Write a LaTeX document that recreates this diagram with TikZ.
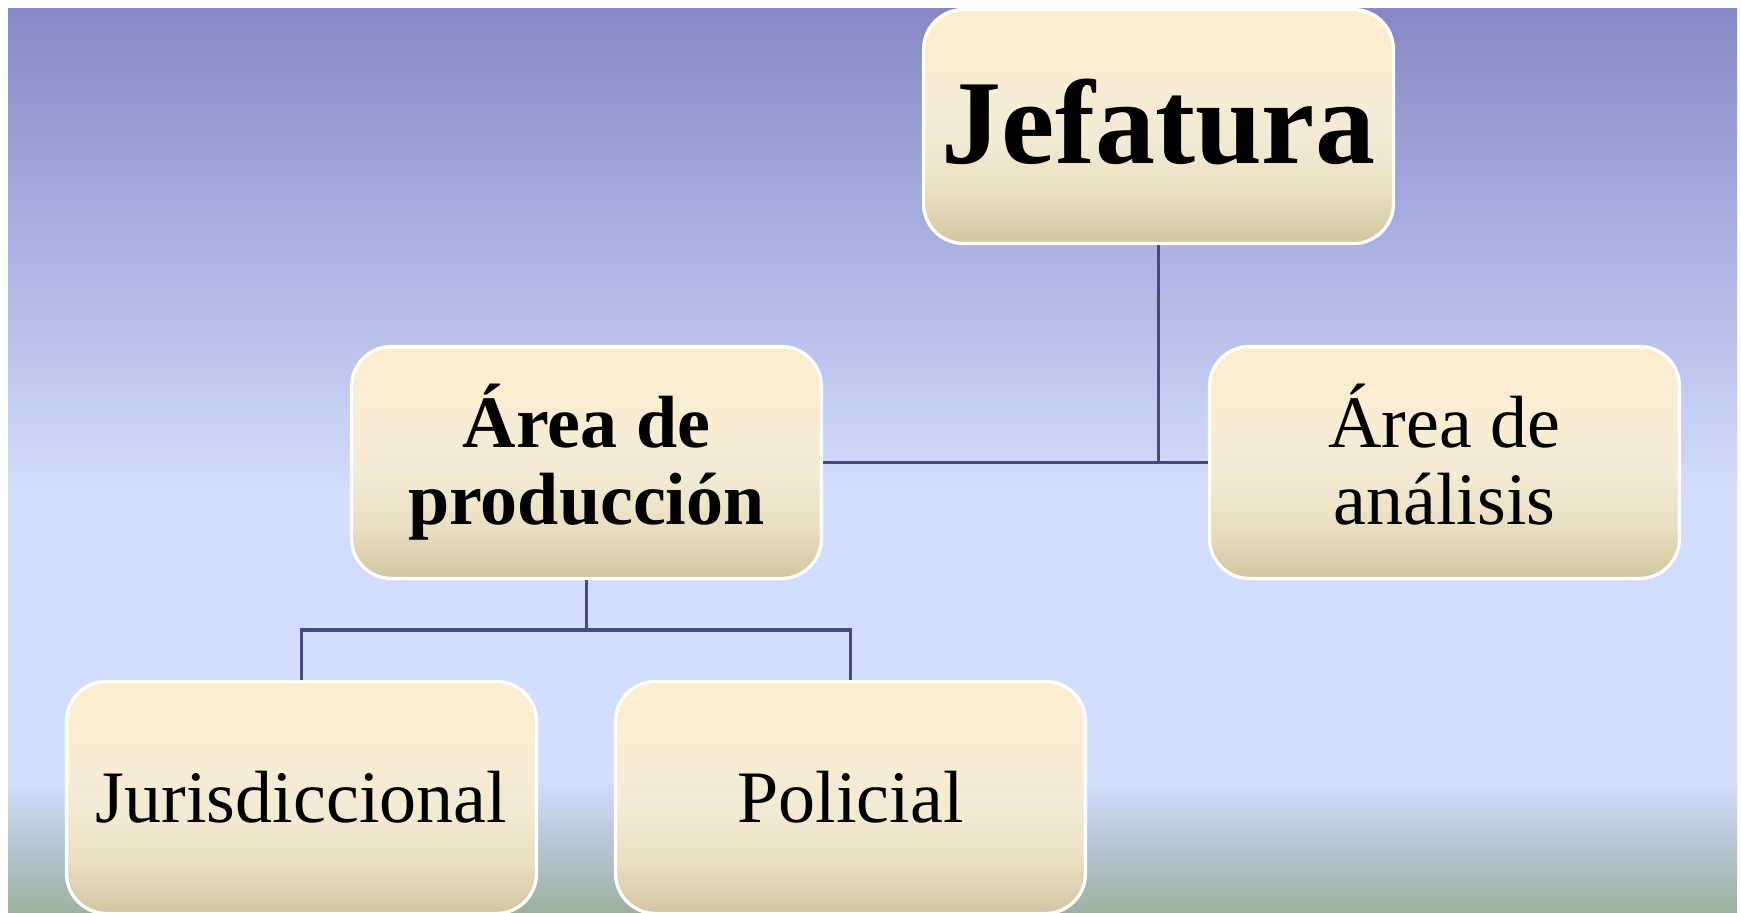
\documentclass[tikz,border=0pt]{standalone}
\usepackage{fontspec}
\setmainfont{Liberation Serif}
\definecolor{bgA}{HTML}{8589C6}
\definecolor{bgB}{HTML}{D3DDFD}
\definecolor{bgM}{HTML}{B6C5D3}
\definecolor{bgC}{HTML}{9CB19D}
\definecolor{bxTop}{HTML}{FDEED0}
\definecolor{bxMid}{HTML}{F4EBD6}
\definecolor{bxLow}{HTML}{E8DFC1}
\definecolor{bxBot}{HTML}{D3C5A1}
\definecolor{lineC}{HTML}{464A7F}
\pgfdeclareverticalshading{bgshade}{100bp}{color(0bp)=(bgC); color(25bp)=(bgC); color(28.7bp)=(bgM); color(32.35bp)=(bgB); color(48.1bp)=(bgB); color(75bp)=(bgA); color(100bp)=(bgA)}
\pgfdeclareverticalshading{boxshade}{100bp}{color(0bp)=(bxBot); color(25bp)=(bxBot); color(36bp)=(bxLow); color(48bp)=(bxMid); color(75bp)=(bxTop); color(100bp)=(bxTop)}
\tikzset{
  orgbox/.style={shape=rectangle, rounded corners=40pt, draw=white, line width=3.3pt,
    shading=boxshade, minimum width=470pt, minimum height=232pt, inner sep=0pt,
    align=center, text=black, font=\fontsize{74pt}{77pt}\selectfont},
  linkline/.style={draw=lineC, line width=3.6pt}
}
\begin{document}
\begin{tikzpicture}[x=1pt,y=-1pt]
\useasboundingbox (0,0) rectangle (1741,913);
\fill[white] (0,0) rectangle (1741,913);
\shade[shading=bgshade] (8,8) rectangle (1737,913);
\node[orgbox, minimum height=234pt, text height=81pt, text depth=8pt, font=\bfseries\fontsize{120pt}{120pt}\selectfont] (jef) at (1158.5,126.5) {Jefatura};
\node[orgbox, font=\bfseries\fontsize{74pt}{77pt}\selectfont] (prod) at (586.5,462.5) {Área de\\producción};
\node[orgbox] (ana) at (1444.5,462.5) {Área de\\análisis\vphantom{p}};
\node[orgbox, text height=49pt, text depth=0pt] (jur) at (301.5,797.5) {Jurisdiccional};
\node[orgbox, text height=49pt, text depth=0pt] (pol) at (850.5,797.5) {Policial};
\draw[linkline] (jef.south) |- (prod.east);
\draw[linkline] (jef.south) |- (ana.west);
\draw[linkline] (prod.south) -- ++(0,50) -| (jur.north);
\draw[linkline] (prod.south) -- ++(0,50) -| (pol.north);
\end{tikzpicture}
\end{document}
